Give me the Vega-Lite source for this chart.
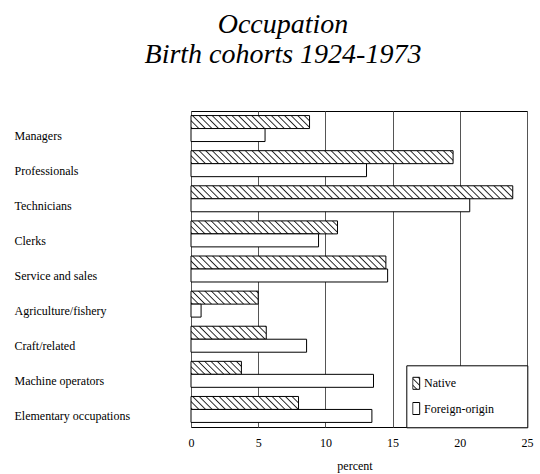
{
"$schema": "https://vega.github.io/schema/vega-lite/v6.json",
"width": 336, "height": 316,
"autosize": "none",
"padding": {"left": 191, "top": 111, "right": 13, "bottom": 47},
"background": "white",
"config": {"view": {"stroke": "black", "strokeWidth": 1}, "font": "Liberation Serif"},
"title": {"text": ["Occupation", "Birth cohorts 1924-1973"], "font": "Liberation Serif", "fontSize": 28, "fontStyle": "italic", "fontWeight": "normal", "color": "black", "anchor": "middle", "frame": "group", "dx": -76, "lineHeight": 30, "offset": 42},
"data": {"values": [
{"occupation":"Managers","group":"Native","percent":8.82},
{"occupation":"Managers","group":"Foreign-origin","percent":5.51},
{"occupation":"Professionals","group":"Native","percent":19.5},
{"occupation":"Professionals","group":"Foreign-origin","percent":13.06},
{"occupation":"Technicians","group":"Native","percent":23.94},
{"occupation":"Technicians","group":"Foreign-origin","percent":20.74},
{"occupation":"Clerks","group":"Native","percent":10.9},
{"occupation":"Clerks","group":"Foreign-origin","percent":9.49},
{"occupation":"Service and sales","group":"Native","percent":14.5},
{"occupation":"Service and sales","group":"Foreign-origin","percent":14.63},
{"occupation":"Agriculture/fishery","group":"Native","percent":5.0},
{"occupation":"Agriculture/fishery","group":"Foreign-origin","percent":0.75},
{"occupation":"Craft/related","group":"Native","percent":5.6},
{"occupation":"Craft/related","group":"Foreign-origin","percent":8.6},
{"occupation":"Machine operators","group":"Native","percent":3.75},
{"occupation":"Machine operators","group":"Foreign-origin","percent":13.58},
{"occupation":"Elementary occupations","group":"Native","percent":8.0},
{"occupation":"Elementary occupations","group":"Foreign-origin","percent":13.46}
]},
"encoding": {
  "y": {"field": "occupation", "type": "nominal", "sort": null,
    "scale": {"domain": ["Managers","Professionals","Technicians","Clerks","Service and sales","Agriculture/fishery","Craft/related","Machine operators","Elementary occupations"], "paddingInner": 0.26, "paddingOuter": 0.13},
    "axis": {"title": null, "domain": false, "ticks": false, "tickSize": 0, "grid": false, "labelAlign": "left", "labelPadding": 177, "labelOffset": 7, "labelFont": "Liberation Serif", "labelFontSize": 12, "labelColor": "black", "labelLimit": 200}},
  "yOffset": {"field": "group", "type": "nominal", "scale": {"domain": ["Native","Foreign-origin"], "paddingInner": 0, "paddingOuter": 0}},
  "x": {"field": "percent", "type": "quantitative", "scale": {"domain": [0, 25], "nice": false},
    "axis": {"values": [0,5,10,15,20,25], "grid": true, "gridColor": "#555555", "gridWidth": 1, "gridOpacity": 1, "domain": false, "ticks": false, "tickSize": 0, "labelFont": "Liberation Serif", "labelFontSize": 12, "labelColor": "black", "labelPadding": 10.5, "labelFlush": false, "labelOverlap": false, "title": "percent", "titleFont": "Liberation Serif", "titleFontSize": 12, "titleFontWeight": "normal", "titleColor": "black", "titlePadding": 12, "titleX": 163.5}}
},
"layer": [
{"transform": [{"filter": "datum.group === 'Native'"}],
 "mark": {"type": "bar", "stroke": "black", "strokeWidth": 1},
 "encoding": {"fill": {"condition": [
  {"test": "datum.occupation === 'Managers'", "value": {"gradient":"linear","x1":0,"y1":1,"x2":1.0965,"y2":0.8797,"stops":[
{"offset":0,"color":"#fff"},{"offset":0.01,"color":"#222"},{"offset":0.02,"color":"#fff"},
{"offset":0.05,"color":"#fff"},{"offset":0.06,"color":"#222"},{"offset":0.07,"color":"#fff"},
{"offset":0.1,"color":"#fff"},{"offset":0.11,"color":"#222"},{"offset":0.12,"color":"#fff"},
{"offset":0.15,"color":"#fff"},{"offset":0.16,"color":"#222"},{"offset":0.17,"color":"#fff"},
{"offset":0.2,"color":"#fff"},{"offset":0.21,"color":"#222"},{"offset":0.22,"color":"#fff"},
{"offset":0.25,"color":"#fff"},{"offset":0.26,"color":"#222"},{"offset":0.27,"color":"#fff"},
{"offset":0.3,"color":"#fff"},{"offset":0.31,"color":"#222"},{"offset":0.32,"color":"#fff"},
{"offset":0.35,"color":"#fff"},{"offset":0.36,"color":"#222"},{"offset":0.37,"color":"#fff"},
{"offset":0.4,"color":"#fff"},{"offset":0.41,"color":"#222"},{"offset":0.42,"color":"#fff"},
{"offset":0.45,"color":"#fff"},{"offset":0.46,"color":"#222"},{"offset":0.47,"color":"#fff"},
{"offset":0.5,"color":"#fff"},{"offset":0.51,"color":"#222"},{"offset":0.52,"color":"#fff"},
{"offset":0.55,"color":"#fff"},{"offset":0.56,"color":"#222"},{"offset":0.57,"color":"#fff"},
{"offset":0.6,"color":"#fff"},{"offset":0.61,"color":"#222"},{"offset":0.62,"color":"#fff"},
{"offset":0.65,"color":"#fff"},{"offset":0.66,"color":"#222"},{"offset":0.67,"color":"#fff"},
{"offset":0.7,"color":"#fff"},{"offset":0.71,"color":"#222"},{"offset":0.72,"color":"#fff"},
{"offset":0.75,"color":"#fff"},{"offset":0.76,"color":"#222"},{"offset":0.77,"color":"#fff"},
{"offset":0.8,"color":"#fff"},{"offset":0.81,"color":"#222"},{"offset":0.82,"color":"#fff"},
{"offset":0.85,"color":"#fff"},{"offset":0.86,"color":"#222"},{"offset":0.87,"color":"#fff"},
{"offset":0.9,"color":"#fff"},{"offset":0.91,"color":"#222"},{"offset":0.92,"color":"#fff"},
{"offset":0.95,"color":"#fff"},{"offset":0.96,"color":"#222"},{"offset":0.97,"color":"#fff"}]}},
  {"test": "datum.occupation === 'Professionals'", "value": {"gradient":"linear","x1":0,"y1":1,"x2":1.047,"y2":0.9481,"stops":[
{"offset":0,"color":"#fff"},{"offset":0.0048,"color":"#222"},{"offset":0.0096,"color":"#fff"},
{"offset":0.024,"color":"#fff"},{"offset":0.0288,"color":"#222"},{"offset":0.0336,"color":"#fff"},
{"offset":0.048,"color":"#fff"},{"offset":0.0528,"color":"#222"},{"offset":0.0576,"color":"#fff"},
{"offset":0.072,"color":"#fff"},{"offset":0.0768,"color":"#222"},{"offset":0.0816,"color":"#fff"},
{"offset":0.096,"color":"#fff"},{"offset":0.1008,"color":"#222"},{"offset":0.1056,"color":"#fff"},
{"offset":0.12,"color":"#fff"},{"offset":0.1248,"color":"#222"},{"offset":0.1296,"color":"#fff"},
{"offset":0.144,"color":"#fff"},{"offset":0.1488,"color":"#222"},{"offset":0.1536,"color":"#fff"},
{"offset":0.168,"color":"#fff"},{"offset":0.1728,"color":"#222"},{"offset":0.1776,"color":"#fff"},
{"offset":0.192,"color":"#fff"},{"offset":0.1968,"color":"#222"},{"offset":0.2016,"color":"#fff"},
{"offset":0.216,"color":"#fff"},{"offset":0.2208,"color":"#222"},{"offset":0.2256,"color":"#fff"},
{"offset":0.24,"color":"#fff"},{"offset":0.2448,"color":"#222"},{"offset":0.2496,"color":"#fff"},
{"offset":0.264,"color":"#fff"},{"offset":0.2688,"color":"#222"},{"offset":0.2736,"color":"#fff"},
{"offset":0.288,"color":"#fff"},{"offset":0.2928,"color":"#222"},{"offset":0.2976,"color":"#fff"},
{"offset":0.312,"color":"#fff"},{"offset":0.3168,"color":"#222"},{"offset":0.3216,"color":"#fff"},
{"offset":0.336,"color":"#fff"},{"offset":0.3408,"color":"#222"},{"offset":0.3456,"color":"#fff"},
{"offset":0.36,"color":"#fff"},{"offset":0.3648,"color":"#222"},{"offset":0.3696,"color":"#fff"},
{"offset":0.384,"color":"#fff"},{"offset":0.3888,"color":"#222"},{"offset":0.3936,"color":"#fff"},
{"offset":0.408,"color":"#fff"},{"offset":0.4128,"color":"#222"},{"offset":0.4176,"color":"#fff"},
{"offset":0.432,"color":"#fff"},{"offset":0.4368,"color":"#222"},{"offset":0.4416,"color":"#fff"},
{"offset":0.456,"color":"#fff"},{"offset":0.4608,"color":"#222"},{"offset":0.4656,"color":"#fff"},
{"offset":0.48,"color":"#fff"},{"offset":0.4848,"color":"#222"},{"offset":0.4896,"color":"#fff"},
{"offset":0.504,"color":"#fff"},{"offset":0.5088,"color":"#222"},{"offset":0.5136,"color":"#fff"},
{"offset":0.528,"color":"#fff"},{"offset":0.5328,"color":"#222"},{"offset":0.5376,"color":"#fff"},
{"offset":0.552,"color":"#fff"},{"offset":0.5568,"color":"#222"},{"offset":0.5616,"color":"#fff"},
{"offset":0.576,"color":"#fff"},{"offset":0.5808,"color":"#222"},{"offset":0.5856,"color":"#fff"},
{"offset":0.6,"color":"#fff"},{"offset":0.6048,"color":"#222"},{"offset":0.6096,"color":"#fff"},
{"offset":0.624,"color":"#fff"},{"offset":0.6288,"color":"#222"},{"offset":0.6336,"color":"#fff"},
{"offset":0.648,"color":"#fff"},{"offset":0.6528,"color":"#222"},{"offset":0.6576,"color":"#fff"},
{"offset":0.672,"color":"#fff"},{"offset":0.6768,"color":"#222"},{"offset":0.6816,"color":"#fff"},
{"offset":0.696,"color":"#fff"},{"offset":0.7008,"color":"#222"},{"offset":0.7056,"color":"#fff"},
{"offset":0.72,"color":"#fff"},{"offset":0.7248,"color":"#222"},{"offset":0.7296,"color":"#fff"},
{"offset":0.744,"color":"#fff"},{"offset":0.7488,"color":"#222"},{"offset":0.7536,"color":"#fff"},
{"offset":0.768,"color":"#fff"},{"offset":0.7728,"color":"#222"},{"offset":0.7776,"color":"#fff"},
{"offset":0.792,"color":"#fff"},{"offset":0.7968,"color":"#222"},{"offset":0.8016,"color":"#fff"},
{"offset":0.816,"color":"#fff"},{"offset":0.8208,"color":"#222"},{"offset":0.8256,"color":"#fff"},
{"offset":0.84,"color":"#fff"},{"offset":0.8448,"color":"#222"},{"offset":0.8496,"color":"#fff"},
{"offset":0.864,"color":"#fff"},{"offset":0.8688,"color":"#222"},{"offset":0.8736,"color":"#fff"},
{"offset":0.888,"color":"#fff"},{"offset":0.8928,"color":"#222"},{"offset":0.8976,"color":"#fff"},
{"offset":0.912,"color":"#fff"},{"offset":0.9168,"color":"#222"},{"offset":0.9216,"color":"#fff"},
{"offset":0.936,"color":"#fff"},{"offset":0.9408,"color":"#222"},{"offset":0.9456,"color":"#fff"},
{"offset":0.96,"color":"#fff"},{"offset":0.9648,"color":"#222"},{"offset":0.9696,"color":"#fff"},
{"offset":0.984,"color":"#fff"},{"offset":0.9888,"color":"#222"},{"offset":0.9936,"color":"#fff"}]}},
  {"test": "datum.occupation === 'Technicians'", "value": {"gradient":"linear","x1":0,"y1":1,"x2":1.0387,"y2":0.958,"stops":[
{"offset":0,"color":"#fff"},{"offset":0.004,"color":"#222"},{"offset":0.008,"color":"#fff"},
{"offset":0.02,"color":"#fff"},{"offset":0.024,"color":"#222"},{"offset":0.028,"color":"#fff"},
{"offset":0.04,"color":"#fff"},{"offset":0.044,"color":"#222"},{"offset":0.048,"color":"#fff"},
{"offset":0.06,"color":"#fff"},{"offset":0.064,"color":"#222"},{"offset":0.068,"color":"#fff"},
{"offset":0.08,"color":"#fff"},{"offset":0.084,"color":"#222"},{"offset":0.088,"color":"#fff"},
{"offset":0.1,"color":"#fff"},{"offset":0.104,"color":"#222"},{"offset":0.108,"color":"#fff"},
{"offset":0.12,"color":"#fff"},{"offset":0.124,"color":"#222"},{"offset":0.128,"color":"#fff"},
{"offset":0.14,"color":"#fff"},{"offset":0.144,"color":"#222"},{"offset":0.148,"color":"#fff"},
{"offset":0.16,"color":"#fff"},{"offset":0.164,"color":"#222"},{"offset":0.168,"color":"#fff"},
{"offset":0.18,"color":"#fff"},{"offset":0.184,"color":"#222"},{"offset":0.188,"color":"#fff"},
{"offset":0.2,"color":"#fff"},{"offset":0.204,"color":"#222"},{"offset":0.208,"color":"#fff"},
{"offset":0.22,"color":"#fff"},{"offset":0.224,"color":"#222"},{"offset":0.228,"color":"#fff"},
{"offset":0.24,"color":"#fff"},{"offset":0.244,"color":"#222"},{"offset":0.248,"color":"#fff"},
{"offset":0.26,"color":"#fff"},{"offset":0.264,"color":"#222"},{"offset":0.268,"color":"#fff"},
{"offset":0.28,"color":"#fff"},{"offset":0.284,"color":"#222"},{"offset":0.288,"color":"#fff"},
{"offset":0.3,"color":"#fff"},{"offset":0.304,"color":"#222"},{"offset":0.308,"color":"#fff"},
{"offset":0.32,"color":"#fff"},{"offset":0.324,"color":"#222"},{"offset":0.328,"color":"#fff"},
{"offset":0.34,"color":"#fff"},{"offset":0.344,"color":"#222"},{"offset":0.348,"color":"#fff"},
{"offset":0.36,"color":"#fff"},{"offset":0.364,"color":"#222"},{"offset":0.368,"color":"#fff"},
{"offset":0.38,"color":"#fff"},{"offset":0.384,"color":"#222"},{"offset":0.388,"color":"#fff"},
{"offset":0.4,"color":"#fff"},{"offset":0.404,"color":"#222"},{"offset":0.408,"color":"#fff"},
{"offset":0.42,"color":"#fff"},{"offset":0.424,"color":"#222"},{"offset":0.428,"color":"#fff"},
{"offset":0.44,"color":"#fff"},{"offset":0.444,"color":"#222"},{"offset":0.448,"color":"#fff"},
{"offset":0.46,"color":"#fff"},{"offset":0.464,"color":"#222"},{"offset":0.468,"color":"#fff"},
{"offset":0.48,"color":"#fff"},{"offset":0.484,"color":"#222"},{"offset":0.488,"color":"#fff"},
{"offset":0.5,"color":"#fff"},{"offset":0.504,"color":"#222"},{"offset":0.508,"color":"#fff"},
{"offset":0.52,"color":"#fff"},{"offset":0.524,"color":"#222"},{"offset":0.528,"color":"#fff"},
{"offset":0.54,"color":"#fff"},{"offset":0.544,"color":"#222"},{"offset":0.548,"color":"#fff"},
{"offset":0.56,"color":"#fff"},{"offset":0.564,"color":"#222"},{"offset":0.568,"color":"#fff"},
{"offset":0.58,"color":"#fff"},{"offset":0.584,"color":"#222"},{"offset":0.588,"color":"#fff"},
{"offset":0.6,"color":"#fff"},{"offset":0.604,"color":"#222"},{"offset":0.608,"color":"#fff"},
{"offset":0.62,"color":"#fff"},{"offset":0.624,"color":"#222"},{"offset":0.628,"color":"#fff"},
{"offset":0.64,"color":"#fff"},{"offset":0.644,"color":"#222"},{"offset":0.648,"color":"#fff"},
{"offset":0.66,"color":"#fff"},{"offset":0.664,"color":"#222"},{"offset":0.668,"color":"#fff"},
{"offset":0.68,"color":"#fff"},{"offset":0.684,"color":"#222"},{"offset":0.688,"color":"#fff"},
{"offset":0.7,"color":"#fff"},{"offset":0.704,"color":"#222"},{"offset":0.708,"color":"#fff"},
{"offset":0.72,"color":"#fff"},{"offset":0.724,"color":"#222"},{"offset":0.728,"color":"#fff"},
{"offset":0.74,"color":"#fff"},{"offset":0.744,"color":"#222"},{"offset":0.748,"color":"#fff"},
{"offset":0.76,"color":"#fff"},{"offset":0.764,"color":"#222"},{"offset":0.768,"color":"#fff"},
{"offset":0.78,"color":"#fff"},{"offset":0.784,"color":"#222"},{"offset":0.788,"color":"#fff"},
{"offset":0.8,"color":"#fff"},{"offset":0.804,"color":"#222"},{"offset":0.808,"color":"#fff"},
{"offset":0.82,"color":"#fff"},{"offset":0.824,"color":"#222"},{"offset":0.828,"color":"#fff"},
{"offset":0.84,"color":"#fff"},{"offset":0.844,"color":"#222"},{"offset":0.848,"color":"#fff"},
{"offset":0.86,"color":"#fff"},{"offset":0.864,"color":"#222"},{"offset":0.868,"color":"#fff"},
{"offset":0.88,"color":"#fff"},{"offset":0.884,"color":"#222"},{"offset":0.888,"color":"#fff"},
{"offset":0.9,"color":"#fff"},{"offset":0.904,"color":"#222"},{"offset":0.908,"color":"#fff"},
{"offset":0.92,"color":"#fff"},{"offset":0.924,"color":"#222"},{"offset":0.928,"color":"#fff"},
{"offset":0.94,"color":"#fff"},{"offset":0.944,"color":"#222"},{"offset":0.948,"color":"#fff"},
{"offset":0.96,"color":"#fff"},{"offset":0.964,"color":"#222"},{"offset":0.968,"color":"#fff"},
{"offset":0.98,"color":"#fff"},{"offset":0.984,"color":"#222"},{"offset":0.988,"color":"#fff"}]}},
  {"test": "datum.occupation === 'Clerks'", "value": {"gradient":"linear","x1":0,"y1":1,"x2":1.0802,"y2":0.9042,"stops":[
{"offset":0,"color":"#fff"},{"offset":0.008,"color":"#222"},{"offset":0.016,"color":"#fff"},
{"offset":0.04,"color":"#fff"},{"offset":0.048,"color":"#222"},{"offset":0.056,"color":"#fff"},
{"offset":0.08,"color":"#fff"},{"offset":0.088,"color":"#222"},{"offset":0.096,"color":"#fff"},
{"offset":0.12,"color":"#fff"},{"offset":0.128,"color":"#222"},{"offset":0.136,"color":"#fff"},
{"offset":0.16,"color":"#fff"},{"offset":0.168,"color":"#222"},{"offset":0.176,"color":"#fff"},
{"offset":0.2,"color":"#fff"},{"offset":0.208,"color":"#222"},{"offset":0.216,"color":"#fff"},
{"offset":0.24,"color":"#fff"},{"offset":0.248,"color":"#222"},{"offset":0.256,"color":"#fff"},
{"offset":0.28,"color":"#fff"},{"offset":0.288,"color":"#222"},{"offset":0.296,"color":"#fff"},
{"offset":0.32,"color":"#fff"},{"offset":0.328,"color":"#222"},{"offset":0.336,"color":"#fff"},
{"offset":0.36,"color":"#fff"},{"offset":0.368,"color":"#222"},{"offset":0.376,"color":"#fff"},
{"offset":0.4,"color":"#fff"},{"offset":0.408,"color":"#222"},{"offset":0.416,"color":"#fff"},
{"offset":0.44,"color":"#fff"},{"offset":0.448,"color":"#222"},{"offset":0.456,"color":"#fff"},
{"offset":0.48,"color":"#fff"},{"offset":0.488,"color":"#222"},{"offset":0.496,"color":"#fff"},
{"offset":0.52,"color":"#fff"},{"offset":0.528,"color":"#222"},{"offset":0.536,"color":"#fff"},
{"offset":0.56,"color":"#fff"},{"offset":0.568,"color":"#222"},{"offset":0.576,"color":"#fff"},
{"offset":0.6,"color":"#fff"},{"offset":0.608,"color":"#222"},{"offset":0.616,"color":"#fff"},
{"offset":0.64,"color":"#fff"},{"offset":0.648,"color":"#222"},{"offset":0.656,"color":"#fff"},
{"offset":0.68,"color":"#fff"},{"offset":0.688,"color":"#222"},{"offset":0.696,"color":"#fff"},
{"offset":0.72,"color":"#fff"},{"offset":0.728,"color":"#222"},{"offset":0.736,"color":"#fff"},
{"offset":0.76,"color":"#fff"},{"offset":0.768,"color":"#222"},{"offset":0.776,"color":"#fff"},
{"offset":0.8,"color":"#fff"},{"offset":0.808,"color":"#222"},{"offset":0.816,"color":"#fff"},
{"offset":0.84,"color":"#fff"},{"offset":0.848,"color":"#222"},{"offset":0.856,"color":"#fff"},
{"offset":0.88,"color":"#fff"},{"offset":0.888,"color":"#222"},{"offset":0.896,"color":"#fff"},
{"offset":0.92,"color":"#fff"},{"offset":0.928,"color":"#222"},{"offset":0.936,"color":"#fff"},
{"offset":0.96,"color":"#fff"},{"offset":0.968,"color":"#222"},{"offset":0.976,"color":"#fff"}]}},
  {"test": "datum.occupation === 'Service and sales'", "value": {"gradient":"linear","x1":0,"y1":1,"x2":1.062,"y2":0.9292,"stops":[
{"offset":0,"color":"#fff"},{"offset":0.0064,"color":"#222"},{"offset":0.0128,"color":"#fff"},
{"offset":0.032,"color":"#fff"},{"offset":0.0384,"color":"#222"},{"offset":0.0448,"color":"#fff"},
{"offset":0.064,"color":"#fff"},{"offset":0.0704,"color":"#222"},{"offset":0.0768,"color":"#fff"},
{"offset":0.096,"color":"#fff"},{"offset":0.1024,"color":"#222"},{"offset":0.1088,"color":"#fff"},
{"offset":0.128,"color":"#fff"},{"offset":0.1344,"color":"#222"},{"offset":0.1408,"color":"#fff"},
{"offset":0.16,"color":"#fff"},{"offset":0.1664,"color":"#222"},{"offset":0.1728,"color":"#fff"},
{"offset":0.192,"color":"#fff"},{"offset":0.1984,"color":"#222"},{"offset":0.2048,"color":"#fff"},
{"offset":0.224,"color":"#fff"},{"offset":0.2304,"color":"#222"},{"offset":0.2368,"color":"#fff"},
{"offset":0.256,"color":"#fff"},{"offset":0.2624,"color":"#222"},{"offset":0.2688,"color":"#fff"},
{"offset":0.288,"color":"#fff"},{"offset":0.2944,"color":"#222"},{"offset":0.3008,"color":"#fff"},
{"offset":0.32,"color":"#fff"},{"offset":0.3264,"color":"#222"},{"offset":0.3328,"color":"#fff"},
{"offset":0.352,"color":"#fff"},{"offset":0.3584,"color":"#222"},{"offset":0.3648,"color":"#fff"},
{"offset":0.384,"color":"#fff"},{"offset":0.3904,"color":"#222"},{"offset":0.3968,"color":"#fff"},
{"offset":0.416,"color":"#fff"},{"offset":0.4224,"color":"#222"},{"offset":0.4288,"color":"#fff"},
{"offset":0.448,"color":"#fff"},{"offset":0.4544,"color":"#222"},{"offset":0.4608,"color":"#fff"},
{"offset":0.48,"color":"#fff"},{"offset":0.4864,"color":"#222"},{"offset":0.4928,"color":"#fff"},
{"offset":0.512,"color":"#fff"},{"offset":0.5184,"color":"#222"},{"offset":0.5248,"color":"#fff"},
{"offset":0.544,"color":"#fff"},{"offset":0.5504,"color":"#222"},{"offset":0.5568,"color":"#fff"},
{"offset":0.576,"color":"#fff"},{"offset":0.5824,"color":"#222"},{"offset":0.5888,"color":"#fff"},
{"offset":0.608,"color":"#fff"},{"offset":0.6144,"color":"#222"},{"offset":0.6208,"color":"#fff"},
{"offset":0.64,"color":"#fff"},{"offset":0.6464,"color":"#222"},{"offset":0.6528,"color":"#fff"},
{"offset":0.672,"color":"#fff"},{"offset":0.6784,"color":"#222"},{"offset":0.6848,"color":"#fff"},
{"offset":0.704,"color":"#fff"},{"offset":0.7104,"color":"#222"},{"offset":0.7168,"color":"#fff"},
{"offset":0.736,"color":"#fff"},{"offset":0.7424,"color":"#222"},{"offset":0.7488,"color":"#fff"},
{"offset":0.768,"color":"#fff"},{"offset":0.7744,"color":"#222"},{"offset":0.7808,"color":"#fff"},
{"offset":0.8,"color":"#fff"},{"offset":0.8064,"color":"#222"},{"offset":0.8128,"color":"#fff"},
{"offset":0.832,"color":"#fff"},{"offset":0.8384,"color":"#222"},{"offset":0.8448,"color":"#fff"},
{"offset":0.864,"color":"#fff"},{"offset":0.8704,"color":"#222"},{"offset":0.8768,"color":"#fff"},
{"offset":0.896,"color":"#fff"},{"offset":0.9024,"color":"#222"},{"offset":0.9088,"color":"#fff"},
{"offset":0.928,"color":"#fff"},{"offset":0.9344,"color":"#222"},{"offset":0.9408,"color":"#fff"},
{"offset":0.96,"color":"#fff"},{"offset":0.9664,"color":"#222"},{"offset":0.9728,"color":"#fff"}]}},
  {"test": "datum.occupation === 'Agriculture/fishery'", "value": {"gradient":"linear","x1":0,"y1":1,"x2":1.1504,"y2":0.7774,"stops":[
{"offset":0,"color":"#fff"},{"offset":0.016,"color":"#222"},{"offset":0.032,"color":"#fff"},
{"offset":0.08,"color":"#fff"},{"offset":0.096,"color":"#222"},{"offset":0.112,"color":"#fff"},
{"offset":0.16,"color":"#fff"},{"offset":0.176,"color":"#222"},{"offset":0.192,"color":"#fff"},
{"offset":0.24,"color":"#fff"},{"offset":0.256,"color":"#222"},{"offset":0.272,"color":"#fff"},
{"offset":0.32,"color":"#fff"},{"offset":0.336,"color":"#222"},{"offset":0.352,"color":"#fff"},
{"offset":0.4,"color":"#fff"},{"offset":0.416,"color":"#222"},{"offset":0.432,"color":"#fff"},
{"offset":0.48,"color":"#fff"},{"offset":0.496,"color":"#222"},{"offset":0.512,"color":"#fff"},
{"offset":0.56,"color":"#fff"},{"offset":0.576,"color":"#222"},{"offset":0.592,"color":"#fff"},
{"offset":0.64,"color":"#fff"},{"offset":0.656,"color":"#222"},{"offset":0.672,"color":"#fff"},
{"offset":0.72,"color":"#fff"},{"offset":0.736,"color":"#222"},{"offset":0.752,"color":"#fff"},
{"offset":0.8,"color":"#fff"},{"offset":0.816,"color":"#222"},{"offset":0.832,"color":"#fff"},
{"offset":0.88,"color":"#fff"},{"offset":0.896,"color":"#222"},{"offset":0.912,"color":"#fff"},
{"offset":0.96,"color":"#fff"},{"offset":0.976,"color":"#222"},{"offset":0.992,"color":"#fff"}]}},
  {"test": "datum.occupation === 'Craft/related'", "value": {"gradient":"linear","x1":0,"y1":1,"x2":1.1387,"y2":0.8035,"stops":[
{"offset":0,"color":"#fff"},{"offset":0.015,"color":"#222"},{"offset":0.03,"color":"#fff"},
{"offset":0.075,"color":"#fff"},{"offset":0.09,"color":"#222"},{"offset":0.105,"color":"#fff"},
{"offset":0.15,"color":"#fff"},{"offset":0.165,"color":"#222"},{"offset":0.18,"color":"#fff"},
{"offset":0.225,"color":"#fff"},{"offset":0.24,"color":"#222"},{"offset":0.255,"color":"#fff"},
{"offset":0.3,"color":"#fff"},{"offset":0.315,"color":"#222"},{"offset":0.33,"color":"#fff"},
{"offset":0.375,"color":"#fff"},{"offset":0.39,"color":"#222"},{"offset":0.405,"color":"#fff"},
{"offset":0.45,"color":"#fff"},{"offset":0.465,"color":"#222"},{"offset":0.48,"color":"#fff"},
{"offset":0.525,"color":"#fff"},{"offset":0.54,"color":"#222"},{"offset":0.555,"color":"#fff"},
{"offset":0.6,"color":"#fff"},{"offset":0.615,"color":"#222"},{"offset":0.63,"color":"#fff"},
{"offset":0.675,"color":"#fff"},{"offset":0.69,"color":"#222"},{"offset":0.705,"color":"#fff"},
{"offset":0.75,"color":"#fff"},{"offset":0.765,"color":"#222"},{"offset":0.78,"color":"#fff"},
{"offset":0.825,"color":"#fff"},{"offset":0.84,"color":"#222"},{"offset":0.855,"color":"#fff"},
{"offset":0.9,"color":"#fff"},{"offset":0.915,"color":"#222"},{"offset":0.93,"color":"#fff"},
{"offset":0.975,"color":"#fff"},{"offset":0.99,"color":"#222"},{"offset":1,"color":"#fff"}]}},
  {"test": "datum.occupation === 'Machine operators'", "value": {"gradient":"linear","x1":0,"y1":1,"x2":1.1794,"y2":0.6958,"stops":[
{"offset":0,"color":"#fff"},{"offset":0.02,"color":"#222"},{"offset":0.04,"color":"#fff"},
{"offset":0.1,"color":"#fff"},{"offset":0.12,"color":"#222"},{"offset":0.14,"color":"#fff"},
{"offset":0.2,"color":"#fff"},{"offset":0.22,"color":"#222"},{"offset":0.24,"color":"#fff"},
{"offset":0.3,"color":"#fff"},{"offset":0.32,"color":"#222"},{"offset":0.34,"color":"#fff"},
{"offset":0.4,"color":"#fff"},{"offset":0.42,"color":"#222"},{"offset":0.44,"color":"#fff"},
{"offset":0.5,"color":"#fff"},{"offset":0.52,"color":"#222"},{"offset":0.54,"color":"#fff"},
{"offset":0.6,"color":"#fff"},{"offset":0.62,"color":"#222"},{"offset":0.64,"color":"#fff"},
{"offset":0.7,"color":"#fff"},{"offset":0.72,"color":"#222"},{"offset":0.74,"color":"#fff"},
{"offset":0.8,"color":"#fff"},{"offset":0.82,"color":"#222"},{"offset":0.84,"color":"#fff"},
{"offset":0.9,"color":"#fff"},{"offset":0.92,"color":"#222"},{"offset":0.94,"color":"#fff"}]}}
 ],
 "value": {"gradient":"linear","x1":0,"y1":1,"x2":1.1047,"y2":0.8664,"stops":[
{"offset":0,"color":"#fff"},{"offset":0.011,"color":"#222"},{"offset":0.022,"color":"#fff"},
{"offset":0.055,"color":"#fff"},{"offset":0.066,"color":"#222"},{"offset":0.077,"color":"#fff"},
{"offset":0.11,"color":"#fff"},{"offset":0.121,"color":"#222"},{"offset":0.132,"color":"#fff"},
{"offset":0.165,"color":"#fff"},{"offset":0.176,"color":"#222"},{"offset":0.187,"color":"#fff"},
{"offset":0.22,"color":"#fff"},{"offset":0.231,"color":"#222"},{"offset":0.242,"color":"#fff"},
{"offset":0.275,"color":"#fff"},{"offset":0.286,"color":"#222"},{"offset":0.297,"color":"#fff"},
{"offset":0.33,"color":"#fff"},{"offset":0.341,"color":"#222"},{"offset":0.352,"color":"#fff"},
{"offset":0.385,"color":"#fff"},{"offset":0.396,"color":"#222"},{"offset":0.407,"color":"#fff"},
{"offset":0.44,"color":"#fff"},{"offset":0.451,"color":"#222"},{"offset":0.462,"color":"#fff"},
{"offset":0.495,"color":"#fff"},{"offset":0.506,"color":"#222"},{"offset":0.517,"color":"#fff"},
{"offset":0.55,"color":"#fff"},{"offset":0.561,"color":"#222"},{"offset":0.572,"color":"#fff"},
{"offset":0.605,"color":"#fff"},{"offset":0.616,"color":"#222"},{"offset":0.627,"color":"#fff"},
{"offset":0.66,"color":"#fff"},{"offset":0.671,"color":"#222"},{"offset":0.682,"color":"#fff"},
{"offset":0.715,"color":"#fff"},{"offset":0.726,"color":"#222"},{"offset":0.737,"color":"#fff"},
{"offset":0.77,"color":"#fff"},{"offset":0.781,"color":"#222"},{"offset":0.792,"color":"#fff"},
{"offset":0.825,"color":"#fff"},{"offset":0.836,"color":"#222"},{"offset":0.847,"color":"#fff"},
{"offset":0.88,"color":"#fff"},{"offset":0.891,"color":"#222"},{"offset":0.902,"color":"#fff"},
{"offset":0.935,"color":"#fff"},{"offset":0.946,"color":"#222"},{"offset":0.957,"color":"#fff"}]}
 }}},
{"transform": [{"filter": "datum.group === 'Foreign-origin'"}],
 "mark": {"type": "bar", "stroke": "black", "strokeWidth": 1},
 "encoding": {"fill": {"field": "group", "type": "nominal",
   "scale": {"domain": ["Native","Foreign-origin"], "range": [{"signal": "{gradient: 'linear', x1: 0, y1: 1, x2: 0.686, y2: -0.183, stops: [{offset: 0.15, color: '#fff'}, {offset: 0.22, color: '#222'}, {offset: 0.29, color: '#fff'}, {offset: 0.5, color: '#fff'}, {offset: 0.57, color: '#222'}, {offset: 0.64, color: '#fff'}, {offset: 0.85, color: '#fff'}, {offset: 0.92, color: '#222'}, {offset: 0.99, color: '#fff'}]}"}, "#ffffff"]},
   "legend": {"title": null, "orient": "none", "legendX": 215.3, "legendY": 254.3, "padding": 6, "clipHeight": 24, "rowPadding": 1.2, "strokeColor": "black", "fillColor": "white", "symbolType": "M-0.58,-1H0.58V1H-0.58Z", "symbolSize": 144, "symbolStrokeColor": "black", "symbolStrokeWidth": 1, "symbolOpacity": 1, "symbolOffset": -2.6, "labelOffset": 1.4, "labelFont": "Liberation Serif", "labelFontSize": 12, "labelColor": "black", "labelExpr": "datum.label + '\u00a0\u00a0\u00a0\u00a0\u00a0\u00a0\u00a0\u00a0\u00a0\u200b'",
     "encoding": {"symbols": {
       "stroke": {"value": "black"},
       "strokeWidth": {"value": 1},
       "opacity": {"value": 1}}}}}}
}
]
}
